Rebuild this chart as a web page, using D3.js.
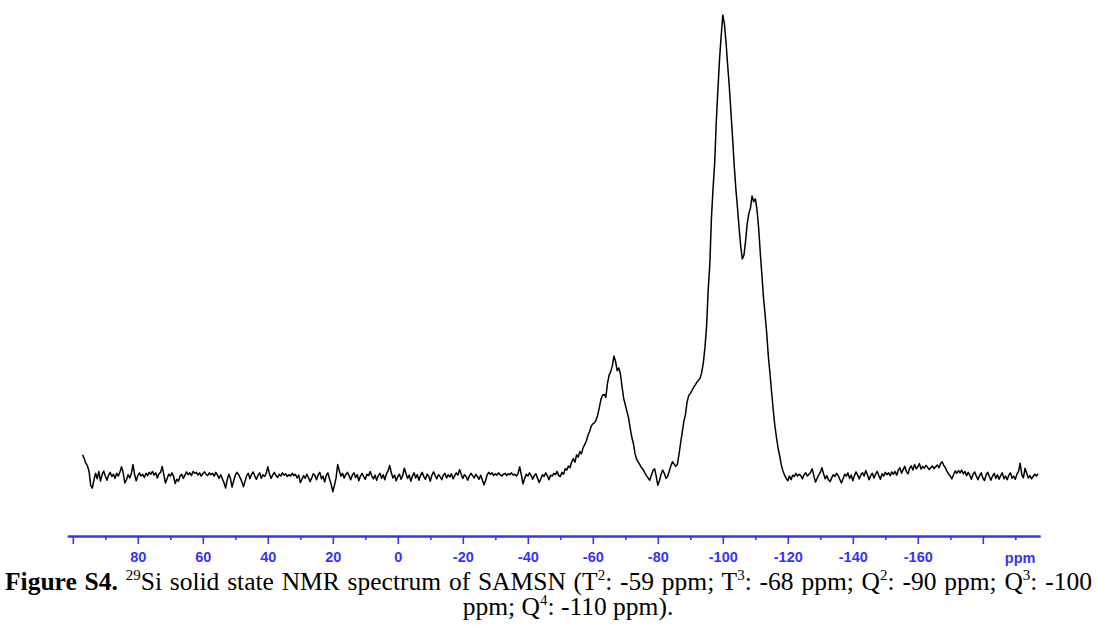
<!DOCTYPE html>
<html><head><meta charset="utf-8">
<script src="https://cdn.jsdelivr.net/npm/d3@7/dist/d3.min.js"></script>
<style>body{margin:0;background:#fff} svg{display:block}</style>
</head><body>
<svg id="c" width="1098" height="626"></svg>
<script>
// Chemical shift grid: starts at 97 ppm, 0.5 ppm per point (downfield -> upfield)
const ppmStart = 97;
const ppmStep = -0.5;
// Relative intensity (main Q3 peak = 100)
const intensity = [
  4.8, 4.0, 3.0, 2.4, 1.2, -1.8, -2.4, -0.6, 0.8, -0.4, 1.2, -0.9, 0.5, 1.3, 0.2, -0.7, 0.4, 1.0, 0.1, 0.6,
  -0.3, 0.8, 0.2, 1.1, 2.2, 0.9, -1.3, -0.6, 0.5, -0.2, 0.7, 2.7, 0.6, -0.8, 0.3, 0.9, 0.2, 0.6, -0.1, 0.8,
  0.3, 1.0, 0.6, 1.2, 0.4, 0.9, -0.2, 0.7, 1.0, 2.3, 0.5, -1.3, -0.4, 0.6, 0.2, 0.9, 0.1, -1.4, -0.5, -0.9,
  0.2, 0.6, -0.3, 0.4, 1.1, 0.5, 0.9, 0.3, 1.2, 0.8, 1.0, 0.4, 0.9, 0.2, 0.7, 1.1, 0.6, 0.3, 0.9, 0.5,
  0.8, 0.2, 1.0, 0.4, -0.3, 0.5, -0.4, -1.2, -2.4, -0.6, 0.6, -0.3, -2.2, -0.8, 0.4, 1.0, 0.5, -0.2, -1.0, -2.1,
  -0.9, 0.3, 0.8, -0.4, 0.6, 1.1, 0.2, -0.5, 0.4, 0.9, -0.3, 0.5, 0.1, 0.8, 2.2, 0.7, -0.3, 0.4, 1.0, 0.3,
  -0.1, 0.6, 0.2, 0.9, 0.4, 0.7, 0.1, 0.5, 0.2, 0.8, 0.3, 0.6, -0.2, 0.4, -1.2, -0.5, 0.3, -0.3, 0.6, -0.1,
  -1.0, -0.2, 0.7, 0.3, -0.6, 0.5, 1.0, -0.4, 0.2, -1.1, 0.4, 0.9, -0.5, -1.6, -3.2, -1.8, -0.2, 2.7, 1.3, 0.2,
  0.8, -0.2, 0.5, 1.0, 0.3, -0.6, 0.4, 0.9, -0.1, 0.5, -0.8, 0.2, 0.8, 0.1, -0.5, 0.6, 0.3, 1.2, 0.2, -0.4,
  0.4, -0.7, 0.3, 0.8, -0.3, 0.5, -0.6, 0.7, 1.3, 2.5, 0.9, -0.2, 0.4, -0.8, 0.1, 0.6, -0.5, 0.3, 1.9, 0.8,
  -0.3, 0.4, -0.9, 0.2, 0.9, -0.2, 0.5, -0.7, 0.3, 1.0, 0.1, -0.5, 0.6, 0.2, -0.9, 0.4, 1.1, 0.3, -0.4, 0.5,
  0.1, -0.6, 0.4, 0.8, -0.2, 0.5, 0.0, 0.7, -0.4, 0.3, 0.9, 0.4, 1.6, 0.6, -0.3, 0.5, 0.1, -0.7, 0.2, 0.8,
  0.3, -0.2, 0.6, 0.1, -0.5, 0.4, -0.6, -1.7, -0.8, 0.5, 1.0, 0.6, 0.9, 0.3, 0.7, 0.4, 0.9, 0.5, 0.2, 0.6,
  0.8, 0.3, 0.7, 0.5, 0.9, 0.4, 0.6, 0.2, 0.8, 2.2, 0.5, -1.5, -0.4, 0.6, 0.2, 0.9, 0.4, -0.5, 0.3, 0.7,
  -0.3, -1.2, -0.4, 0.5, 0.1, 0.9, 0.3, -0.6, 0.4, 0.2, 0.8, 0.5, 1.2, 0.3, 0.1, 1.0, 0.6, 1.8, 1.5, 2.4,
  2.0, 3.3, 4.0, 3.2, 4.8, 4.3, 5.5, 5.0, 6.3, 7.0, 7.8, 9.0, 9.8, 11.0, 11.5, 11.7, 12.3, 13.4, 15.0, 16.8,
  17.7, 17.9, 17.2, 20.2, 22.0, 22.8, 24.0, 26.2, 25.0, 23.0, 23.6, 22.3, 19.5, 17.0, 15.6, 14.2, 12.8, 10.6, 8.6, 7.2,
  5.0, 3.8, 3.2, 2.6, 2.0, 1.6, 0.9, 0.3, -0.2, -0.7, 0.3, 1.4, 1.8, 0.2, -1.8, -0.8, 0.6, 1.5, 0.8, -0.3,
  0.1, 1.2, 2.4, 3.3, 2.8, 2.3, 2.7, 4.8, 7.3, 9.6, 12.0, 13.5, 16.2, 17.6, 18.1, 18.7, 19.4, 19.9, 20.5, 20.9,
  21.4, 22.6, 24.7, 28.0, 32.5, 40.5, 46.0, 56.0, 62.5, 68.0, 77.0, 84.0, 90.5, 95.5, 100.0, 98.0, 94.0, 89.0, 84.5, 79.0,
  73.5, 67.5, 62.5, 58.4, 54.0, 50.0, 47.2, 48.0, 51.0, 54.8, 57.0, 58.2, 60.8, 59.6, 60.2, 58.0, 54.1, 48.8, 44.0, 39.0,
  35.2, 31.2, 26.2, 22.5, 18.5, 14.6, 11.2, 8.6, 6.3, 4.6, 2.6, 1.3, 0.4, -0.3, -0.8, 0.2, -0.6, 0.4, 0.1, 0.8,
  0.2, 0.6, 0.3, -0.4, 0.5, 0.9, 0.2, 0.6, 1.0, 1.8, 0.3, -1.1, -0.3, 0.4, 1.0, 2.0, 0.7, -0.4, 0.3, -0.6,
  -1.0, -0.2, 0.5, 0.1, 0.8, 0.3, -0.5, -1.3, -0.4, 0.6, 0.2, 0.9, -0.3, 0.4, -0.8, 0.3, 1.1, 0.4, -0.4, 0.5,
  0.9, 0.2, 1.4, 0.5, -0.6, 0.3, 0.8, -0.2, 0.6, 1.2, 0.3, -0.5, 0.7, 0.2, 1.0, 0.5, 0.9, 0.3, 1.1, 0.6,
  1.2, 0.4, 1.5, 2.0, 0.8, 1.6, 2.3, 1.2, 0.7, 1.9, 2.4, 1.5, 2.7, 1.8, 2.2, 2.9, 1.7, 2.3, 1.9, 2.5,
  2.1, 1.6, 2.0, 2.4, 1.8, 2.2, 2.6, 2.0, 2.9, 3.3, 2.5, 2.0, 1.2, 0.6, 0.2, -0.4, 0.5, 1.3, 0.8, 1.4,
  0.9, 1.5, 0.7, 1.2, 0.3, 1.0, 0.4, -0.5, 0.6, 1.1, 0.2, -0.6, 0.3, 0.9, -0.2, -0.8, 0.4, 1.0, 0.1, -0.7,
  0.2, 0.8, -0.3, 0.5, -0.5, 0.3, 0.9, -0.4, 0.2, -0.6, 0.4, 0.9, -0.3, 0.2, -0.5, 0.6, 1.2, 3.0, 0.5, -0.2,
  1.9, 0.8, -0.2, 0.3, -0.4, 0.1, 0.6, 0.2, 0.7
];
const majorTicks = [100, 80, 60, 40, 20, 0, -20, -40, -60, -80, -100, -120, -140, -160, -180];
const minorTicks = [90, 70, 50, 30, 10, -10, -30, -50, -70, -90, -110, -130, -150, -170, -190];
const labelledTicks = [80, 60, 40, 20, 0, -20, -40, -60, -80, -100, -120, -140, -160];
const axisUnit = "ppm";
const axisUnitAt = -191.5;
const axisExtent = [101.7, -197.6];

const ppm = intensity.map((_, i) => ppmStart + i * ppmStep);
const data = ppm.map((p, i) => ({ p, v: intensity[i] }));

const svg = d3.select("#c");
const x = d3.scaleLinear().domain(axisExtent).range([67.3, 1040]);
const y = d3.scaleLinear().domain([0, 100]).range([477, 15]);
const blue = "#3333ff";
const axisY = 536;

// spectrum
svg.append("path")
  .datum(data)
  .attr("fill", "none")
  .attr("stroke", "#000")
  .attr("stroke-width", 1.5)
  .attr("stroke-linejoin", "round")
  .attr("d", d3.line().x(d => x(d.p)).y(d => y(d.v)));

// axis
const gMinor = svg.append("g").attr("transform", `translate(0,${axisY})`)
  .call(d3.axisBottom(x).tickValues(minorTicks).tickSize(4).tickSizeOuter(0).tickFormat(""));
const gMajor = svg.append("g").attr("transform", `translate(0,${axisY})`)
  .call(d3.axisBottom(x).tickValues(majorTicks).tickSize(8).tickSizeOuter(0)
    .tickFormat(d => labelledTicks.includes(d) ? String(d) : ""));
[gMinor, gMajor].forEach(g => {
  g.select(".domain").attr("stroke", blue).attr("stroke-width", 2);
  g.selectAll(".tick line").attr("stroke", blue).attr("stroke-width", 1.6);
});
const labelFont = "Arial, 'Liberation Sans', sans-serif";
gMajor.selectAll(".tick text")
  .attr("fill", blue)
  .attr("y", 26).attr("dy", 0)
  .style("font-family", labelFont)
  .style("font-size", "14.5px")
  .style("font-weight", "bold");
gMajor.append("text")
  .attr("x", x(axisUnitAt)).attr("y", 27)
  .attr("text-anchor", "middle")
  .attr("fill", blue)
  .style("font-family", labelFont)
  .style("font-size", "14.5px")
  .style("font-weight", "bold")
  .text(axisUnit);

// caption (first line fitted to the page width through word spacing)
const cap = svg.append("g")
  .style("font-family", "'Liberation Serif', 'Times New Roman', serif")
  .style("font-size", "25.5px")
  .attr("fill", "#000");
function seg(t, text, opts = {}) {
  const s = t.append("tspan").text(text);
  if (opts.bold) s.style("font-weight", "bold");
  if (opts.sup) s.attr("dy", -10).style("font-size", "15px");
  if (opts.down) s.attr("dy", 10);
  return s;
}
const lineStart = 5, lineEnd = 1092;
const l1 = cap.append("text").attr("x", lineStart).attr("y", 590);
seg(l1, "Figure S4.", { bold: true });
seg(l1, " ");
seg(l1, "29", { sup: true });
seg(l1, "Si solid state NMR spectrum of SAMSN (T", { down: true });
seg(l1, "2", { sup: true });
seg(l1, ": -59 ppm; T", { down: true });
seg(l1, "3", { sup: true });
seg(l1, ": -68 ppm; Q", { down: true });
seg(l1, "2", { sup: true });
seg(l1, ": -90 ppm; Q", { down: true });
seg(l1, "3", { sup: true });
seg(l1, ": -100", { down: true });
const spaces = (l1.text().match(/ /g) || []).length;
let ws = 0;
for (let k = 0; k < 3; k++) {
  const w = l1.node().getBBox().width;
  ws += ((lineEnd - lineStart) - w) / spaces;
  l1.style("word-spacing", ws + "px");
}
const l2 = cap.append("text").attr("x", 568).attr("y", 615).attr("text-anchor", "middle");
seg(l2, "ppm; Q");
seg(l2, "4", { sup: true });
seg(l2, ": -110 ppm).", { down: true });
</script>
</body></html>
